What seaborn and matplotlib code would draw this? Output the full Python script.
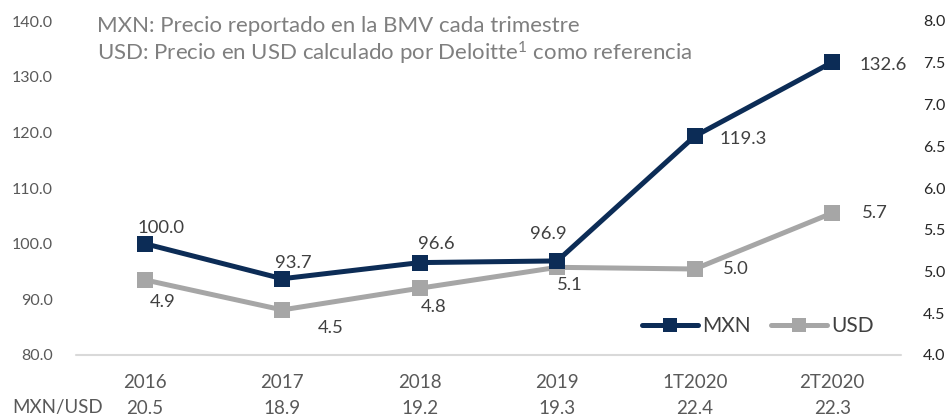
import matplotlib
matplotlib.use("Agg")
import matplotlib.pyplot as plt
import seaborn as sns
import pandas as pd
from matplotlib.lines import Line2D
from matplotlib.transforms import blended_transform_factory

categories = ["2016", "2017", "2018", "2019", "1T2020", "2T2020"]
mxn = [100.0, 93.7, 96.6, 96.9, 119.3, 132.6]
usd = [4.90, 4.54, 4.80, 5.05, 5.03, 5.70]
usd_labels = ["4.9", "4.5", "4.8", "5.1", "5.0", "5.7"]
fx = ["20.5", "18.9", "19.2", "19.3", "22.4", "22.3"]
left_ticks = [80, 90, 100, 110, 120, 130, 140]
right_ticks = [4.0, 4.5, 5.0, 5.5, 6.0, 6.5, 7.0, 7.5, 8.0]
title_lines = ["MXN: Precio reportado en la BMV cada trimestre",
               "USD: Precio en USD calculado por Deloitte$^{1}$ como referencia"]

sns.set_style("white")
plt.rcParams["font.family"] = ["Lato", "DejaVu Sans"]
plt.rcParams["mathtext.fontset"] = "custom"
plt.rcParams["mathtext.rm"] = "Lato"
plt.rcParams["mathtext.it"] = "Lato"

NAVY = "#0C2C56"
GRAY = "#A6A6A6"
TXT = "#404040"
CAT = "#595959"

df = pd.DataFrame({"cat": categories, "idx": range(len(categories)), "MXN": mxn, "USD": usd})

W, H = 951, 416
fig = plt.figure(figsize=(W / 100, H / 100), dpi=100)
ax = fig.add_axes([76 / W, 1 - 355 / H, 825 / W, 334 / H])
ax2 = ax.twinx()

sns.lineplot(data=df, x="idx", y="MXN", ax=ax, color=NAVY, lw=3.6, marker="s",
             markersize=11, markeredgewidth=0, zorder=3)
sns.lineplot(data=df, x="idx", y="USD", ax=ax2, color=GRAY, lw=3.6, marker="s",
             markersize=11, markeredgewidth=0, zorder=2)
ax.set_zorder(ax2.get_zorder() + 1)
ax.patch.set_visible(False)

ax.set_xlim(-0.5, len(categories) - 0.5)
ax.set_ylim(80, 140)
ax2.set_ylim(4.0, 8.0)
ax.set_yticks(left_ticks)
ax.set_yticklabels([f"{v:.1f}" for v in left_ticks], color=CAT, fontsize=11.5)
ax2.set_yticks(right_ticks)
ax2.set_yticklabels([f"{v:.1f}" for v in right_ticks], color="#262626", fontsize=11.5)
ax.set_xticks(range(len(categories)))
ax.set_xticklabels(categories, fontsize=13.5, color=CAT)
for t in ax.get_xticklabels():
    t.set_va("center")
ax.tick_params(axis="x", length=0, pad=20)
ax.tick_params(axis="y", length=0, pad=16.5)
ax2.tick_params(axis="y", length=0, pad=16)
ax.set_xlabel("")
ax.set_ylabel("")
ax2.set_ylabel("")
for a in (ax, ax2):
    for s in a.spines.values():
        s.set_visible(False)
ax.axhline(80, color="#D9D9D9", lw=1.5, zorder=1, clip_on=False)

# MXN labels (offsets in pixels)
mxn_off = [(16, 16), (11, 16), (17, 19), (-9, 27), (25, -3), (27, -3)]
mxn_ha = ["center", "center", "center", "center", "left", "left"]
for i, v in enumerate(mxn):
    dx, dy = mxn_off[i]
    ax.annotate(f"{v:.1f}", (i, v), xytext=(dx, dy), textcoords="offset pixels",
                ha=mxn_ha[i], va="center", fontsize=13.3, color=TXT)

usd_off = [(18, -22), (48, -18), (14, -19), (13, -18), (28, 0), (30, 0)]
usd_ha = ["center", "center", "center", "center", "left", "left"]
for i, lab in enumerate(usd_labels):
    dx, dy = usd_off[i]
    ax2.annotate(lab, (i, usd[i]), xytext=(dx, dy), textcoords="offset pixels",
                 ha=usd_ha[i], va="center", fontsize=13.3, color=TXT)

# Exchange rate row
tr = blended_transform_factory(ax.transData, fig.transFigure)
for i, v in enumerate(fx):
    ax.text(i, 1 - 408 / H, v, transform=tr, ha="center", va="center",
            fontsize=13.5, color=CAT)
fig.text(12 / W, 1 - 408 / H, "MXN/USD", ha="left", va="center", fontsize=13.5, color=CAT)

# Title text
fig.text(97 / W, 1 - 26 / H, title_lines[0], ha="left", va="center", fontsize=16, color="#7F7F7F")
fig.text(97 / W, 1 - 53 / H, title_lines[1], ha="left", va="center", fontsize=16, color="#7F7F7F")

handles = [Line2D([], [], color=NAVY, lw=3.6, marker="s", markersize=10, markeredgewidth=0),
           Line2D([], [], color=GRAY, lw=3.6, marker="s", markersize=10, markeredgewidth=0)]
fig.legend(handles, ["MXN", "USD"], loc="center left", bbox_to_anchor=(642 / W, 1 - 326 / H),
           bbox_transform=fig.transFigure, ncol=2, frameon=False, fontsize=15,
           handlelength=2.7, handletextpad=0.2, columnspacing=0.95, borderpad=0,
           borderaxespad=0, labelcolor=TXT)

fig.savefig("out.png", dpi=100)
